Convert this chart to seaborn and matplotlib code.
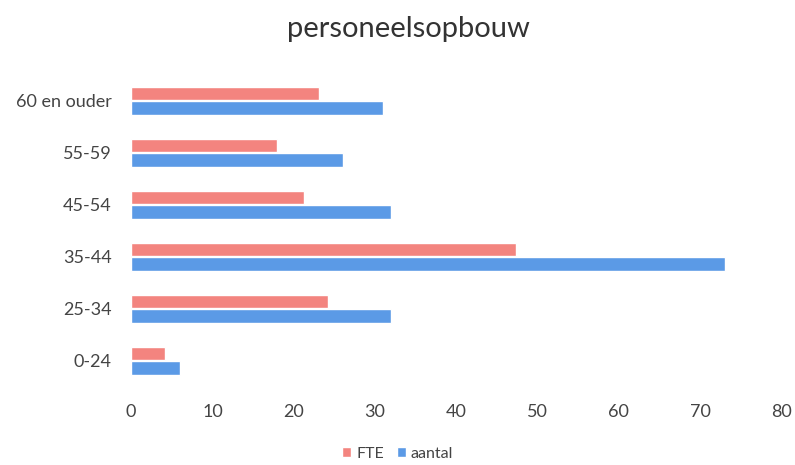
import matplotlib

matplotlib.use("Agg")
import matplotlib.pyplot as plt
import pandas as pd
import seaborn as sns

CATEGORIES = ["60 en ouder", "55-59", "45-54", "35-44", "25-34", "0-24"]
FTE = [23.1, 18.0, 21.3, 47.4, 24.2, 4.2]
AANTAL = [31, 26, 32, 73, 32, 6]
SERIES = ["FTE", "aantal"]
COLORS = ["#f3847f", "#5b9ae6"]
XTICKS = [0, 10, 20, 30, 40, 50, 60, 70, 80]


def main() -> None:
    df = pd.DataFrame(
        {
            "groep": CATEGORIES * 2,
            "waarde": FTE + AANTAL,
            "reeks": ["FTE"] * len(CATEGORIES) + ["aantal"] * len(CATEGORIES),
        }
    )

    sns.set_style("white")
    plt.rcParams["font.family"] = ["Lato", "DejaVu Sans"]

    fig = plt.figure(figsize=(7.95, 4.65), dpi=100)
    ax = fig.add_axes([0.165, 0.168, 0.818, 0.671])
    sns.barplot(
        data=df, x="waarde", y="groep", hue="reeks", order=CATEGORIES,
        hue_order=SERIES, palette=COLORS, orient="h", width=0.56, gap=0.07,
        saturation=1, ax=ax, legend=True,
    )
    ax.set_xlim(0, 80)
    ax.set_xticks(XTICKS)
    ax.set_xlabel("")
    ax.set_ylabel("")
    sns.despine(ax=ax, left=True, bottom=True)
    ax.tick_params(axis="x", length=0, pad=12, labelsize=13, colors="#444444")
    ax.tick_params(axis="y", length=0, pad=14, labelsize=13, colors="#444444")

    handles, labels = ax.get_legend_handles_labels()
    ax.get_legend().remove()
    fig.legend(
        handles, labels, loc="center", bbox_to_anchor=(0.5, 0.024), ncol=2,
        frameon=False, fontsize=11.5, handlelength=0.6, handleheight=0.6,
        handletextpad=0.3, columnspacing=0.8, labelcolor="#444444",
    )
    fig.suptitle("personeelsopbouw", x=0.514, y=0.965, fontsize=21, color="#333333")

    fig.savefig("out.png", dpi=100)
    plt.close(fig)


if __name__ == "__main__":
    main()
